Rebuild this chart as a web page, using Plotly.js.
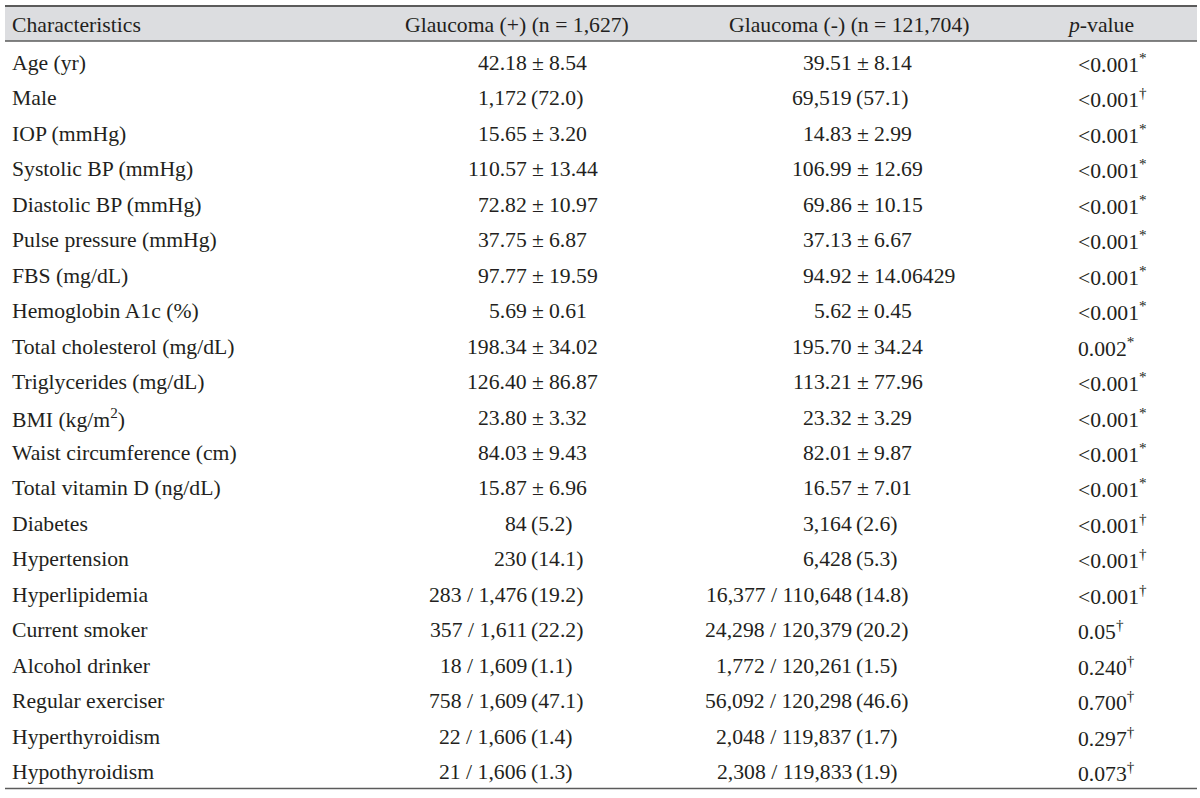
<!DOCTYPE html>
<html>
<head>
<meta charset="utf-8">
<script src="https://cdn.plot.ly/plotly-3.0.1.min.js"></script>
<style>html,body{margin:0;padding:0;background:#fff;}#chart{width:1200px;height:798px;}</style>
</head>
<body>
<div id="chart"></div>
<script>
const headers = ["Characteristics", "Glaucoma (+) (n = 1,627)", "Glaucoma (-) (n = 121,704)", "<i>p</i>-value"];

const characteristics = [
  "Age (yr)", "Male", "IOP (mmHg)", "Systolic BP (mmHg)", "Diastolic BP (mmHg)",
  "Pulse pressure (mmHg)", "FBS (mg/dL)", "Hemoglobin A1c (%)", "Total cholesterol (mg/dL)",
  "Triglycerides (mg/dL)", "BMI (kg/m<sup>2</sup>)", "Waist circumference (cm)",
  "Total vitamin D (ng/dL)", "Diabetes", "Hypertension", "Hyperlipidemia",
  "Current smoker", "Alcohol drinker", "Regular exerciser", "Hyperthyroidism", "Hypothyroidism"
];

const glaucomaPos = [
  "42.18 ± 8.54", "1,172 (72.0)", "15.65 ± 3.20", "110.57 ± 13.44", "72.82 ± 10.97",
  "37.75 ± 6.87", "97.77 ± 19.59", "5.69 ± 0.61", "198.34 ± 34.02", "126.40 ± 86.87",
  "23.80 ± 3.32", "84.03 ± 9.43", "15.87 ± 6.96", "84 (5.2)", "230 (14.1)",
  "283 / 1,476 (19.2)", "357 / 1,611 (22.2)", "18 / 1,609 (1.1)", "758 / 1,609 (47.1)",
  "22 / 1,606 (1.4)", "21 / 1,606 (1.3)"
];

const glaucomaNeg = [
  "39.51 ± 8.14", "69,519 (57.1)", "14.83 ± 2.99", "106.99 ± 12.69", "69.86 ± 10.15",
  "37.13 ± 6.67", "94.92 ± 14.06429", "5.62 ± 0.45", "195.70 ± 34.24", "113.21 ± 77.96",
  "23.32 ± 3.29", "82.01 ± 9.87", "16.57 ± 7.01", "3,164 (2.6)", "6,428 (5.3)",
  "16,377 / 110,648 (14.8)", "24,298 / 120,379 (20.2)", "1,772 / 120,261 (1.5)",
  "56,092 / 120,298 (46.6)", "2,048 / 119,837 (1.7)", "2,308 / 119,833 (1.9)"
];

const pValues = [
  "<0.001", "<0.001", "<0.001", "<0.001", "<0.001", "<0.001", "<0.001", "<0.001",
  "0.002", "<0.001", "<0.001", "<0.001", "<0.001", "<0.001", "<0.001", "<0.001",
  "0.05", "0.240", "0.700", "0.297", "0.073"
];

const pMarks = [
  "*", "†", "*", "*", "*", "*", "*", "*", "*", "*", "*", "*", "*",
  "†", "†", "†", "†", "†", "†", "†", "†"
];

// ---- layout geometry ----
const W = 1200, H = 798;
const FONT = {family: "Liberation Serif, 'Times New Roman', serif", size: 21.7, color: "#231f20"};
const headerY = 25;
const rowY0 = 63, rowStep = 35.45;
const colLeftX = 12;
const colAlign = [
  {numRight: 527, pm: 538, rightStart: 549, parenStart: 531},
  {numRight: 852, pm: 863, rightStart: 874, parenStart: 856}
];
const pLeft = 1078;

function esc(s){ return s.replace(/</g, "&lt;"); }

const annotations = [];
function ann(text, x, y, xanchor){
  annotations.push({
    text: text, x: x, y: y, xref: "x", yref: "y",
    xanchor: xanchor, yanchor: "middle", showarrow: false,
    font: FONT, borderpad: 0, borderwidth: 0
  });
}

// header
ann(headers[0], colLeftX, headerY, "left");
ann(headers[1], 517, headerY, "center");
ann(headers[2], 849, headerY, "center");
ann(headers[3], 1100, headerY, "center");

function cell(s, y, g){
  if (s.indexOf(" ± ") >= 0) {
    const parts = s.split(" ± ");
    ann(parts[0], g.numRight, y, "right");
    ann("±", g.pm, y, "center");
    ann(parts[1], g.rightStart, y, "left");
  } else {
    const k = s.lastIndexOf(" (");
    ann(s.slice(0, k), g.numRight, y, "right");
    ann(s.slice(k + 1), g.parenStart, y, "left");
  }
}

characteristics.forEach((c, i) => {
  const y = rowY0 + i * rowStep;
  ann(c, colLeftX, y, "left");
  cell(glaucomaPos[i], y, colAlign[0]);
  cell(glaucomaNeg[i], y, colAlign[1]);
  ann(esc(pValues[i]) + "<sup>" + pMarks[i] + "</sup>", pLeft, y, "left");
});

const lineColor = "#5b5b5b";
const shapes = [
  {type: "rect", xref: "x", yref: "y", x0: 5, x1: 1197, y0: 6, y1: 41,
   fillcolor: "#dcdde0", line: {width: 0}, layer: "below"},
  {type: "line", xref: "x", yref: "y", x0: 5, x1: 1197, y0: 6, y1: 6,
   line: {color: lineColor, width: 2}},
  {type: "line", xref: "x", yref: "y", x0: 5, x1: 1197, y0: 41, y1: 41,
   line: {color: lineColor, width: 1.5}},
  {type: "line", xref: "x", yref: "y", x0: 5, x1: 1197, y0: 788.5, y1: 788.5,
   line: {color: lineColor, width: 1.5}}
];

const layout = {
  width: W, height: H,
  margin: {l: 0, r: 0, t: 0, b: 0, pad: 0},
  paper_bgcolor: "#ffffff", plot_bgcolor: "#ffffff",
  xaxis: {range: [0, W], visible: false, fixedrange: true},
  yaxis: {range: [H, 0], visible: false, fixedrange: true},
  showlegend: false,
  annotations: annotations,
  shapes: shapes
};

Plotly.newPlot("chart", [], layout, {displayModeBar: false, staticPlot: true});
</script>
</body>
</html>
